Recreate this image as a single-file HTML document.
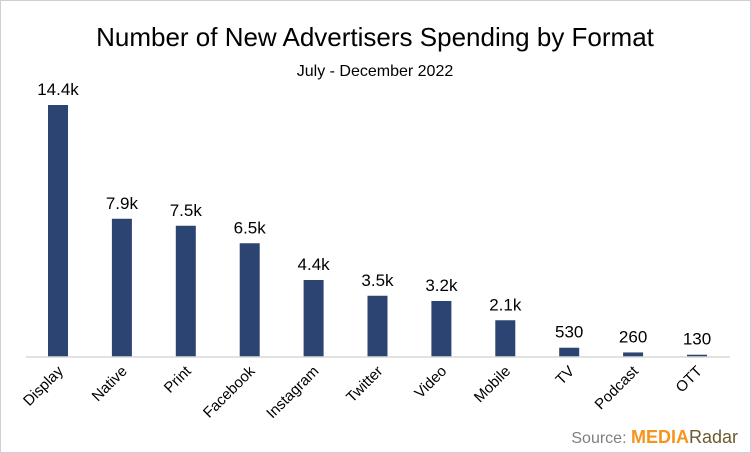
<!DOCTYPE html>
<html><head><meta charset="utf-8"><style>
body{margin:0;background:#fff;}
svg{display:block;font-family:"Liberation Sans",Calibri,sans-serif;}
</style></head><body>
<svg width="751" height="453">
<rect x="0.5" y="0.5" width="750" height="452" fill="#fff" stroke="#d0d0d0"/>
<text x="375" y="46" font-size="26" text-anchor="middle" fill="#000">Number of New Advertisers Spending by Format</text>
<text x="375" y="76" font-size="16" text-anchor="middle" fill="#000">July - December 2022</text>
<g id="bars"></g>
<line x1="26" y1="357" x2="730" y2="357" stroke="#d9d9d9" stroke-width="1.5"/>
<text x="738" y="443" font-size="16" text-anchor="end" fill="#7f7f7f">Source: <tspan font-size="18" font-weight="bold" fill="#f7941d">MEDIA</tspan><tspan font-size="18" fill="#6b5a2e">Radar</tspan></text>
</svg>
<script>
const categories=["Display","Native","Print","Facebook","Instagram","Twitter","Video","Mobile","TV","Podcast","OTT"];
const values=[14400,7900,7500,6500,4400,3500,3200,2100,530,260,130];
const valueLabels=["14.4k","7.9k","7.5k","6.5k","4.4k","3.5k","3.2k","2.1k","530","260","130"];
const NS="http://www.w3.org/2000/svg";
const g=document.getElementById("bars");
const base=357, scale=252/14400, x0=58, step=63.9, bw=20;
function xPos(i){return x0+i*step;}
function yPos(v){return base-v*scale;}
categories.forEach((c,i)=>{
  const cx=xPos(i), y=yPos(values[i]);
  const r=document.createElementNS(NS,"rect");
  r.setAttribute("x",cx-bw/2);r.setAttribute("y",y);r.setAttribute("width",bw);r.setAttribute("height",base-y);r.setAttribute("fill","#2b4471");
  
  
  g.appendChild(r);
  const t=document.createElementNS(NS,"text");
  t.setAttribute("x",cx);t.setAttribute("y",y-10);t.setAttribute("text-anchor","middle");t.setAttribute("font-size","17");
  t.textContent=valueLabels[i];
  
  
  g.appendChild(t);
  const l=document.createElementNS(NS,"text");
  l.setAttribute("x",cx+6);l.setAttribute("y",372);l.setAttribute("text-anchor","end");l.setAttribute("font-size","15");
  l.setAttribute("transform","rotate(-45 "+(cx+6)+" 372)");
  l.textContent=c;
  
  
  g.appendChild(l);
});
</script>
</body></html>
